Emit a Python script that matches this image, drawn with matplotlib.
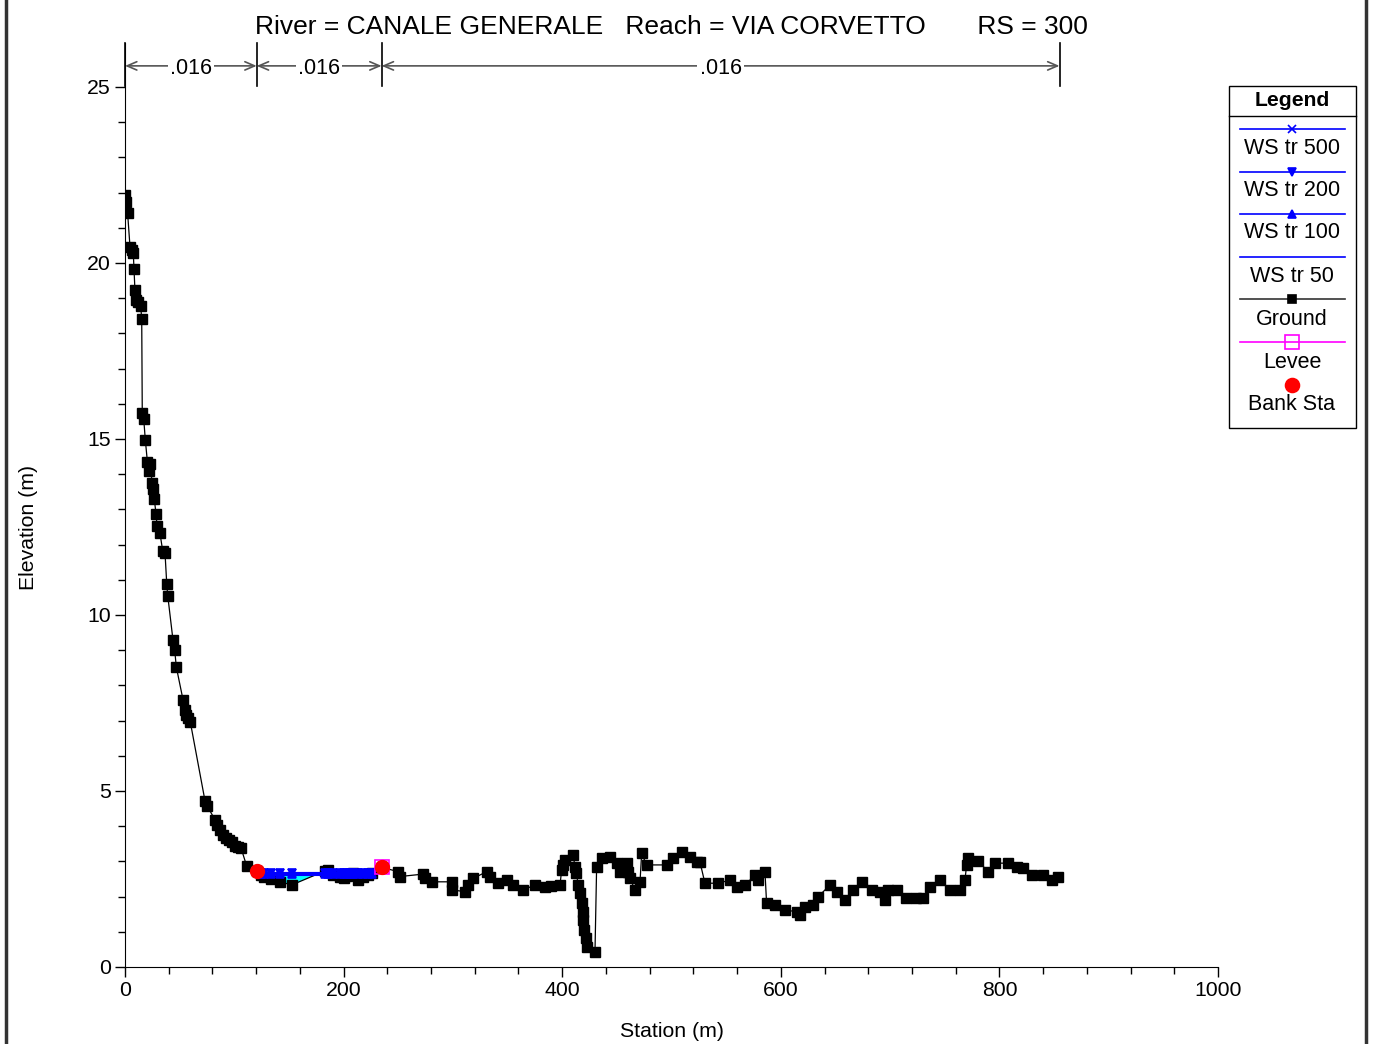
import numpy as np
import matplotlib.pyplot as plt
from matplotlib.lines import Line2D
from matplotlib.patches import Rectangle

plt.rcParams['font.family'] = ['Liberation Sans', 'DejaVu Sans']

W, H = 1374, 1044

# ground profile (station m, elevation m)
ground_sta = [0, 0.9, 2.4, 4.6, 6.1, 7.6, 8.2, 9.1, 10.1, 12.2, 14.4, 15.3, 15.8, 17.1,
              18.6, 20.5, 21.6, 22.8, 24.95, 25.9, 26.8, 28.4, 29.3, 32.0, 34.5, 36.6,
              38.2, 39.1, 43.9, 45.5, 46.9, 53.1, 54.6, 56.1, 57.6, 59.7, 73.2, 75.2,
              82.3, 84.4, 86.9, 89.4, 92.4, 94.8, 97.6, 100.6, 103.1, 106.1, 111.3,
              120.5, 124, 127, 134, 142, 152.5, 183, 186, 190.5, 197, 200, 203, 206,
              208.5, 213.5, 218, 222, 226, 234.8,
              250, 251.6, 273, 274.5, 280.6, 298.9, 299.5, 311, 314, 318.7, 331, 334,
              341.6, 349.2, 355.3, 364.4, 375, 384, 390, 398, 399.5, 400.5, 402.6, 410,
              411.7, 413, 414.7, 416.3, 417.8, 418.7, 419.3, 420.2, 421.5, 423, 430,
              431.5, 436, 443.7, 449.8, 452.9, 459, 460.5, 462, 466.6, 471.2, 472.7,
              477.2, 495.5, 501.6, 509.3, 517, 523, 526, 530.6, 542.8, 553.5, 559.6,
              567.2, 576.4, 579.4, 585.5, 587, 594.7, 603.8, 614.5, 617.6, 622, 629.8,
              634.3, 645, 651.1, 658.7, 666.3, 674, 683, 690.8, 695.3, 698, 706, 715,
              724, 730.4, 736.5, 745.6, 754.8, 764, 768.5, 770, 771.6, 780.7, 789.8,
              796, 808, 815.8, 821.8, 829.5, 840, 847.8, 853.9]
ground_elev = [21.93, 21.74, 21.41, 20.45, 20.36, 20.27, 19.84, 19.23, 18.96, 18.89, 18.77,
               18.4, 15.73, 15.58, 14.97, 14.35, 14.1, 14.3, 13.74, 13.57, 13.29, 12.87,
               12.54, 12.32, 11.82, 11.77, 10.88, 10.55, 9.29, 9.0, 8.53, 7.59, 7.3, 7.16,
               7.07, 6.97, 4.72, 4.58, 4.18, 4.03, 3.89, 3.75, 3.66, 3.61, 3.56, 3.45,
               3.42, 3.39, 2.87,
               2.73, 2.60, 2.55, 2.50, 2.42, 2.33, 2.73, 2.76, 2.60, 2.55, 2.52, 2.58,
               2.65, 2.67, 2.47, 2.55, 2.62, 2.66, 2.83,
               2.71, 2.57, 2.64, 2.52, 2.42, 2.42, 2.19, 2.14, 2.33, 2.52, 2.71, 2.57,
               2.38, 2.47, 2.33, 2.19, 2.33, 2.28, 2.30, 2.33, 2.76, 2.9, 3.04, 3.18,
               2.85, 2.66, 2.33, 2.1, 1.81, 1.57, 1.34, 1.05, 0.82, 0.58, 0.43,
               2.85, 3.09, 3.13, 2.95, 2.71, 2.95, 2.71, 2.52, 2.19, 2.42, 3.23,
               2.9, 2.9, 3.09, 3.28, 3.13, 2.99, 2.99, 2.38, 2.38, 2.47, 2.28,
               2.33, 2.61, 2.47, 2.71, 1.81, 1.76, 1.62, 1.57, 1.48, 1.71, 1.76,
               2.0, 2.33, 2.14, 1.9, 2.19, 2.42, 2.19, 2.14, 1.9, 2.19, 2.19, 1.95,
               1.95, 1.95, 2.28, 2.47, 2.19, 2.2, 2.47, 2.9, 3.09, 3.0, 2.71,
               2.95, 2.95, 2.85, 2.8, 2.61, 2.61, 2.47, 2.55]

# water surfaces
ws_names = ['WS tr 500', 'WS tr 200', 'WS tr 100', 'WS tr 50']
ws_elev = [2.68, 2.66, 2.64, 2.62]
ws_markers = ['x', 'v', '^', '']
ws_left, ws_right = 122.0, 228.0

bank_sta = [120.5, 234.8]
bank_elev = [2.73, 2.83]
levee_sta = [234.8]
levee_elev = [2.85]

n_breaks = [0, 120.5, 234.8, 855]
n_values = ['.016', '.016', '.016']

title = 'River = CANALE GENERALE   Reach = VIA CORVETTO       RS = 300'

fig = plt.figure(figsize=(W / 100, H / 100), dpi=100)
ax = fig.add_axes([125 / W, 1 - 967 / H, (1218 - 125) / W, (967 - 43) / H])

gs = np.array(ground_sta)
ge = np.array(ground_elev)

# water fill between ground and WS
mask = (gs >= ws_left) & (gs <= ws_right)
xs = np.concatenate([[ws_left], gs[mask], [ws_right]])
ys = np.interp(xs, gs, ge)
ax.fill_between(xs, ys, ws_elev[0], where=ys < ws_elev[0], interpolate=True,
                color='cyan', lw=0, zorder=1)

ax.plot(gs, ge, color='black', lw=0.9, marker='s', ms=6.5, zorder=2)

ws_mx = gs[mask]
for lev, mk in zip(ws_elev, ws_markers):
    ax.plot([ws_left, ws_right], [lev, lev], color='blue', lw=1.5, zorder=3)
    if mk:
        ax.plot(ws_mx, np.full(len(ws_mx), lev), ls='none', marker=mk, color='blue',
                ms=6, mew=1.2, zorder=3)

ax.plot(levee_sta, levee_elev, ls='none', marker='s', mfc='none', mec='magenta',
        ms=10, mew=1.2, zorder=4)
ax.plot(bank_sta, bank_elev, ls='none', marker='o', color='red', ms=10, zorder=4)

# n-value annotations
ytop = 26.25
yarr = 25.6
for xb in n_breaks:
    ax.plot([xb, xb], [25.03, ytop], color='black', lw=1.2, clip_on=False, zorder=5)
for i, nv in enumerate(n_values):
    x0, x1 = n_breaks[i], n_breaks[i + 1]
    ax.annotate('', xy=(x0, yarr), xytext=(x1, yarr),
                arrowprops=dict(arrowstyle='<->,head_length=0.7,head_width=0.3',
                                color='#555555', lw=1.2, shrinkA=0, shrinkB=0),
                annotation_clip=False)
    ax.text((x0 + x1) / 2, yarr - 0.07, nv, ha='center', va='center', fontsize=15.5,
            bbox=dict(facecolor='white', edgecolor='none', pad=1.5), zorder=6)

ax.set_xlim(0, 1000)
ax.set_ylim(0, ytop)
ax.spines['top'].set_visible(False)
ax.spines['right'].set_visible(False)
ax.set_xticks([0, 200, 400, 600, 800, 1000])
ax.set_xticks(np.arange(0, 1001, 40), minor=True)
ax.set_yticks([0, 5, 10, 15, 20, 25])
ax.set_yticks(np.arange(0, 26, 1), minor=True)
ax.tick_params(which='major', length=7, width=1, labelsize=15.3, pad=3)
ax.tick_params(which='minor', length=5, width=1)
ax.set_xlabel('Station (m)', fontsize=15.3)
ax.set_ylabel('Elevation (m)', fontsize=15.3)
ax.xaxis.set_label_coords(0.5, -0.0595)
ax.yaxis.set_label_coords(-0.0796, 0.476)

fig.text(671 / W, 1 - 26.5 / H, title, ha='center', va='center', fontsize=19)


# legend drawn in figure pixels
def fx(px):
    return px / W


def fy(py):
    return 1 - py / H


fig.add_artist(Rectangle((fx(1229), fy(428)), fx(1356) - fx(1229), fy(86) - fy(428),
                         transform=fig.transFigure, fill=False, ec='black', lw=1))
fig.add_artist(Line2D([fx(1229), fx(1356)], [fy(116), fy(116)], transform=fig.transFigure,
                      color='black', lw=1))
fig.text(fx(1292), fy(100), 'Legend', ha='center', va='center', fontsize=15.2,
         fontweight='bold')

leg_items = [
    (129, 149, 'WS tr 500', 'blue', 'x', 'blue', 'blue', 6, True),
    (172, 191, 'WS tr 200', 'blue', 'v', 'blue', 'blue', 6, True),
    (214, 233, 'WS tr 100', 'blue', '^', 'blue', 'blue', 6, True),
    (257, 277, 'WS tr 50', 'blue', '', 'blue', 'blue', 6, True),
    (299, 320, 'Ground', '#333333', 's', 'black', 'black', 6, True),
    (342, 362, 'Levee', 'magenta', 's', 'none', 'magenta', 10, True),
    (385, 405, 'Bank Sta', 'red', 'o', 'red', 'red', 10, False),
]
for ly, ty, lab, lc, mk, mfc, mec, ms, has_line in leg_items:
    if has_line:
        fig.add_artist(Line2D([fx(1240), fx(1345)], [fy(ly), fy(ly)],
                              transform=fig.transFigure, color=lc, lw=1.2))
    if mk:
        fig.add_artist(Line2D([fx(1292)], [fy(ly)], transform=fig.transFigure, ls='none',
                              marker=mk, mfc=mfc, mec=mec, ms=ms, mew=1.2))
    fig.text(fx(1292), fy(ty), lab, ha='center', va='center', fontsize=15.5)

# outer frame edges
for px in (6, 1366):
    fig.add_artist(Line2D([fx(px), fx(px)], [0, 1], transform=fig.transFigure,
                          color='#333333', lw=2.5))

fig.savefig('out.png', dpi=100)
